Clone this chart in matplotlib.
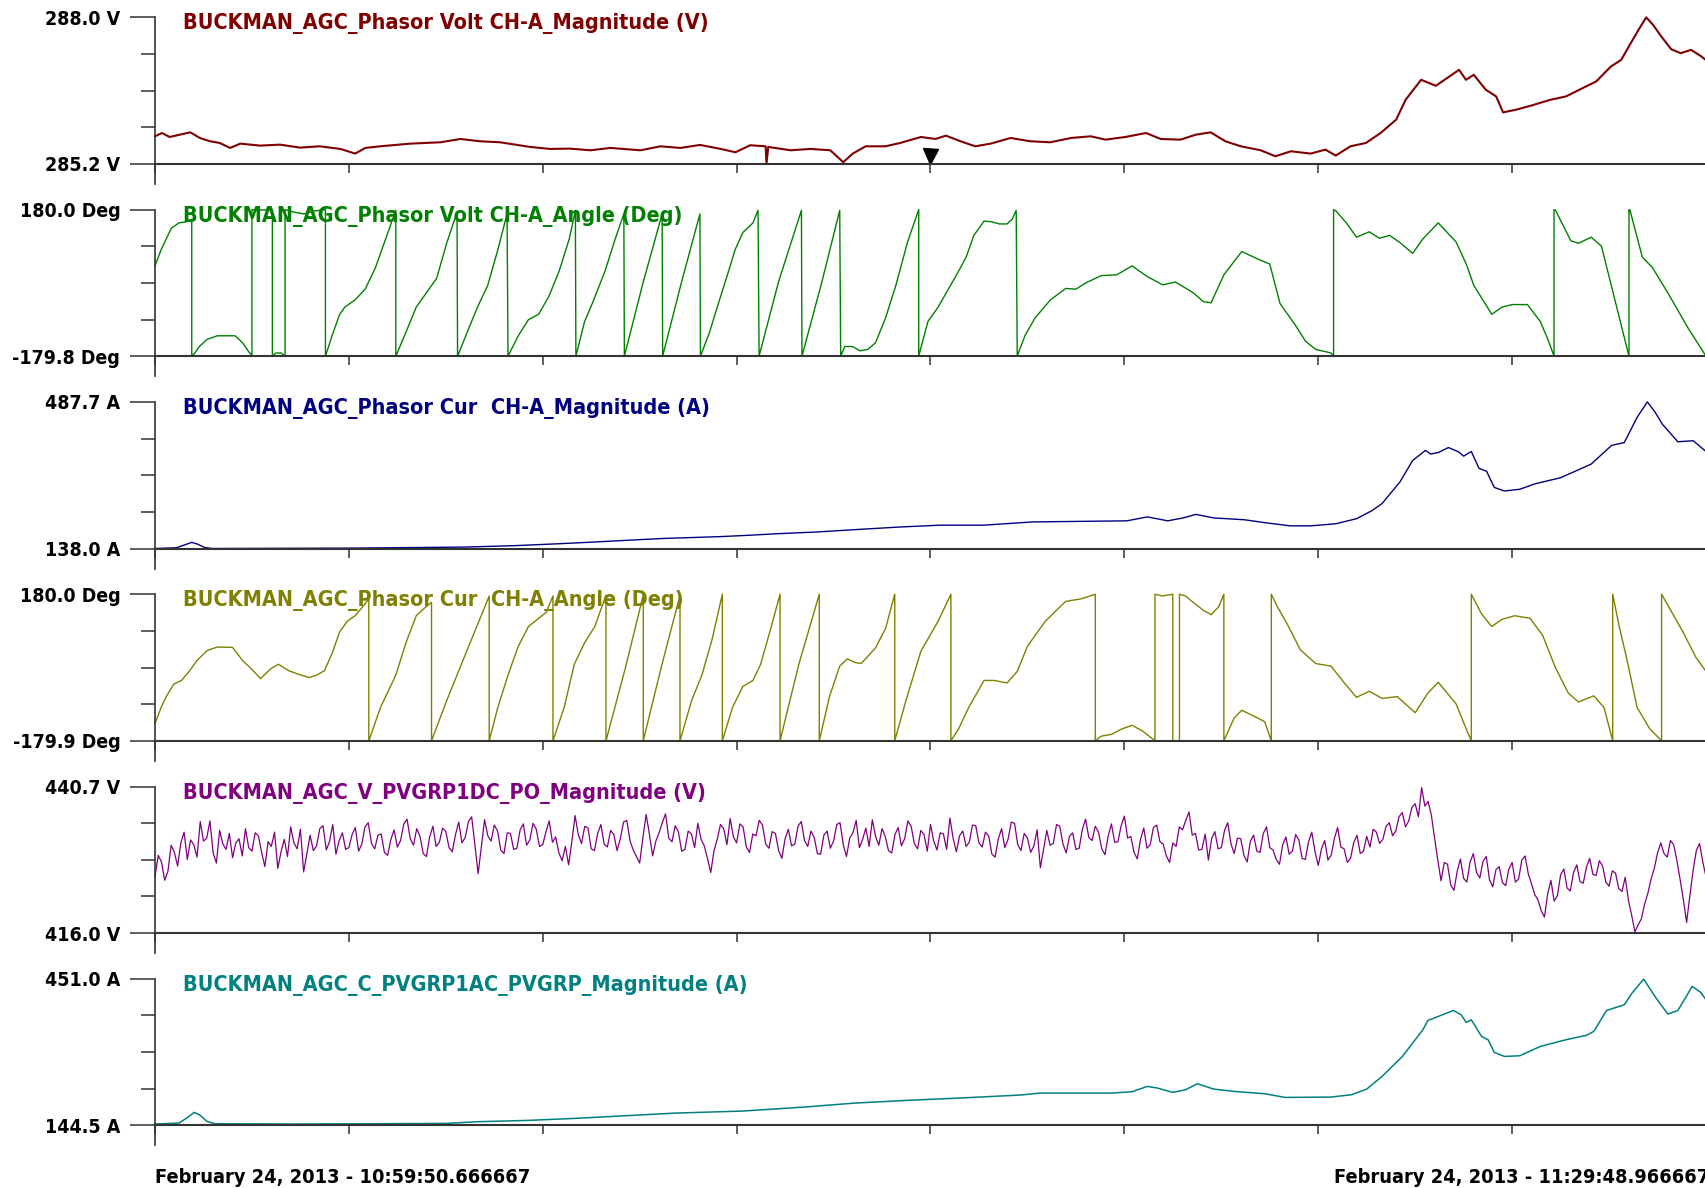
import matplotlib
matplotlib.use('Agg')
import matplotlib.pyplot as plt
import numpy as np
from matplotlib import font_manager
from matplotlib.font_manager import FontProperties
from matplotlib.transforms import ScaledTranslation

total_s = 1798.3
start_label = 'February 24, 2013 - 10:59:50.666667'
end_label = 'February 24, 2013 - 11:29:48.966667'
cursor_t = 899.15

titles = ['BUCKMAN_AGC_Phasor Volt CH-A_Magnitude (V)',
          'BUCKMAN_AGC_Phasor Volt CH-A_Angle (Deg)',
          'BUCKMAN_AGC_Phasor Cur  CH-A_Magnitude (A)',
          'BUCKMAN_AGC_Phasor Cur  CH-A_Angle (Deg)',
          'BUCKMAN_AGC_V_PVGRP1DC_PO_Magnitude (V)',
          'BUCKMAN_AGC_C_PVGRP1AC_PVGRP_Magnitude (A)']
colors = ['#800000', '#008000', '#000080', '#808000', '#800080', '#008080']
y_top = [288.0, 180.0, 487.7, 180.0, 440.7, 451.0]
y_bottom = [285.2, -179.8, 138.0, -179.9, 416.0, 144.5]
units = ['V', 'Deg', 'A', 'Deg', 'V', 'A']

# phasor volt magnitude
volt_mag_t = [0, 8, 17, 29, 41, 52, 64, 75, 87, 99, 122, 145, 168, 191, 215, 232, 244, 261,
              296, 331, 354, 377, 400, 435, 458, 481, 505, 528, 563, 586, 609, 632, 656, 673,
              690, 708, 709, 711, 737, 760, 783, 798, 809, 824, 847, 864, 888, 905, 917, 934,
              951, 969, 992, 1015, 1038, 1062, 1085, 1102, 1125, 1149, 1166, 1189, 1207, 1224,
              1241, 1259, 1282, 1299, 1317, 1340, 1357, 1369, 1386, 1404, 1421, 1439, 1450,
              1468, 1485, 1502, 1512, 1520, 1529, 1543, 1555, 1563, 1578, 1595, 1618, 1636,
              1653, 1671, 1688, 1700, 1711, 1720, 1729, 1737, 1746, 1758, 1769, 1781, 1792, 1798]
volt_mag = [285.727, 285.790, 285.714, 285.759, 285.803, 285.695, 285.632, 285.600, 285.505,
            285.587, 285.549, 285.568, 285.511, 285.536, 285.486, 285.397, 285.505, 285.536,
            285.587, 285.613, 285.676, 285.632, 285.613, 285.524, 285.486, 285.492, 285.460,
            285.505, 285.460, 285.536, 285.505, 285.562, 285.486, 285.422, 285.556, 285.536,
            285.206, 285.524, 285.460, 285.486, 285.460, 285.232, 285.397, 285.536, 285.536,
            285.600, 285.714, 285.676, 285.740, 285.632, 285.536, 285.587, 285.695, 285.632,
            285.613, 285.695, 285.727, 285.663, 285.714, 285.790, 285.676, 285.663, 285.759,
            285.803, 285.632, 285.536, 285.460, 285.346, 285.441, 285.397, 285.473, 285.359,
            285.536, 285.600, 285.790, 286.044, 286.425, 286.806, 286.692, 286.883, 286.997,
            286.806, 286.902, 286.616, 286.489, 286.184, 286.235, 286.311, 286.425, 286.489,
            286.629, 286.775, 287.060, 287.187, 287.505, 287.759, 287.999, 287.854, 287.644,
            287.390, 287.314, 287.378, 287.263, 287.187]

# phasor volt angle
volt_ang_t = [0, 7.1, 13.0, 18.9, 27.8, 36.7, 42.6, 42.6,
              45.5, 51.5, 60.3, 72.2, 92.9, 101.7, 108.8, 112.4, 112.4, 124.0, 136.1, 136.1,
              140.2, 146.1, 150.8, 150.8, 160.9, 172.7, 184.6, 197.6, 197.6,
              205.3, 214.1, 220.1, 231.9, 243.7, 255.6, 267.4, 279.2, 279.2,
              291.0, 302.9, 314.7, 326.5, 338.4, 350.2, 350.8,
              362.0, 373.9, 385.7, 397.5, 408.2, 409.3,
              421.2, 433.0, 444.8, 456.7, 468.5, 480.3, 487.4, 488.0,
              498.1, 507.0, 521.7, 533.6, 543.6, 544.2,
              566.1, 588.0, 588.6,
              610.5, 631.8, 632.4,
              643.0, 651.9, 663.7, 672.6, 681.5, 693.3, 699.2, 700.4,
              722.9, 749.5, 750.1,
              773.2, 793.9, 795.0,
              799.8, 808.6, 817.5, 826.4, 835.3, 847.1, 858.9, 872.5, 885.5, 885.5,
              896.2, 908.0, 919.9, 931.7, 940.6, 949.4, 961.3, 970.1, 979.0, 987.9, 993.8, 998.5, 999.7,
              1008.6, 1020.4, 1038.2, 1055.9, 1067.7, 1079.6, 1097.3, 1115.1, 1132.8, 1150.6, 1168.3,
              1183.1, 1203.8, 1215.6, 1224.5, 1239.3, 1260.0, 1280.7, 1292.5, 1304.4, 1322.1, 1333.9,
              1345.8, 1363.5, 1366.5, 1366.5,
              1369.4, 1381.3, 1393.1, 1407.9, 1419.7, 1431.5, 1443.4, 1458.2, 1470.0, 1487.8, 1508.5,
              1520.3, 1529.2, 1549.9, 1561.7, 1573.6, 1591.3, 1606.1, 1615.0, 1622.1, 1622.1,
              1623.8, 1641.6, 1650.4, 1665.2, 1677.1, 1694.8, 1709.0, 1709.0,
              1710.2, 1724.4, 1736.2, 1754.0, 1777.6, 1798.3, 1798.3]
volt_ang = [41.9, 81.5, 107.9, 134.3, 147.4, 150.1, 156.2, -179.8,
            -173.6, -156.0, -138.5, -129.7, -129.7, -147.2, -169.2, -178.0, 180.0, 179.0, 179.5, -179.8,
            -171.9, -171.9, -179.8, 180.0, 173.8, 169.4, 176.5, 180.0, -179.8,
            -129.7, -76.9, -59.3, -41.7, -15.3, 37.5, 107.9, 178.2, -179.8,
            -120.9, -59.3, -24.1, 11.1, 99.1, 173.8, -179.8,
            -120.9, -59.3, -6.5, 81.5, 169.4, -179.8,
            -129.7, -90.1, -76.9, -32.9, 28.7, 107.9, 178.2, -179.8,
            -94.5, -50.5, 28.7, 107.9, 169.4, -179.8,
            2.3, 169.4, -179.8,
            2.3, 169.4, -179.8,
            -120.9, -59.3, 19.9, 81.5, 123.7, 147.4, 178.2, -179.8,
            2.3, 178.2, -179.8,
            2.3, 178.2, -179.8,
            -156.0, -156.0, -166.6, -163.1, -147.2, -85.7, -6.5, 100.0, 180.0, -179.8,
            -94.5, -59.3, -15.3, 28.7, 63.9, 116.7, 151.9, 150.1, 144.8, 144.8, 156.2, 178.2, -179.8,
            -129.7, -85.7, -41.7, -13.5, -15.3, 0.5, 18.1, 19.9, 41.9, 15.5, -4.7,
            2.3, -24.1, -46.1, -48.7, 19.9, 77.1, 56.8, 46.3, -50.5, -103.3, -142.9,
            -163.1, -171.9, -179.8, 180.0,
            176.5, 147.4, 112.3, 125.5, 109.6, 116.7, 99.1, 72.7, 107.9, 147.4, 100.8,
            46.3, -6.5, -76.9, -59.3, -53.1, -53.1, -94.5, -138.5, -179.8, 180.0,
            178.2, 103.5, 97.3, 112.3, 90.3, -59.3, -179.8, 180.0,
            178.2, 63.9, 37.5, -24.1, -111.1, -179.8, 180.0]

# phasor current magnitude
cur_mag_t = [0, 24.8, 36.7, 42.6, 48.5, 57.4, 66.3, 226.0, 359.1, 418.2, 465.6, 501.1, 548.4,
             589.8, 654.9, 690.3, 719.9, 767.2, 814.6, 864.9, 911.0, 961.3, 1017.5, 1126.9,
             1150.6, 1174.2, 1192.0, 1206.8, 1227.5, 1263.0, 1286.6, 1316.2, 1339.9, 1369.4,
             1393.1, 1410.8, 1422.7, 1443.4, 1458.2, 1473.0, 1478.9, 1487.8, 1499.6, 1511.4,
             1517.3, 1526.2, 1535.1, 1543.9, 1552.8, 1564.6, 1582.4, 1600.1, 1629.7, 1665.2,
             1688.9, 1703.6, 1718.4, 1730.3, 1739.1, 1748.0, 1765.7, 1783.5, 1798.3]
cur_mag = [138.0, 139.7, 148.3, 152.6, 149.1, 140.6, 138.0, 138.9, 141.4, 144.9, 149.1, 152.6,
           157.7, 162.0, 166.3, 169.7, 173.1, 177.4, 183.4, 189.4, 193.7, 193.7, 201.4, 204.0,
           213.4, 204.0, 210.9, 219.4, 210.9, 206.6, 199.7, 192.0, 192.0, 197.1, 209.1, 228.0,
           245.1, 296.6, 348.0, 372.0, 363.4, 366.8, 378.8, 368.6, 358.3, 369.4, 329.1, 322.3,
           283.7, 275.1, 279.4, 292.3, 306.8, 339.4, 384.0, 390.8, 450.8, 487.7, 463.7, 433.7,
           392.6, 395.1, 369.4]

# phasor current angle
cur_ang_t = [0, 7.1, 13.0, 21.9, 30.8, 39.6, 48.5, 60.3, 72.2, 89.9, 101.7, 110.6, 122.5, 134.3,
             143.2, 155.0, 166.8, 178.6, 187.5, 196.4, 205.3, 214.1, 223.0, 231.9, 240.8, 247.9, 247.9,
             261.5, 279.2, 291.0, 302.9, 311.8, 320.6, 320.6,
             338.4, 362.0, 387.5, 387.5,
             397.5, 409.3, 421.2, 433.0, 444.8, 453.7, 461.4, 461.4,
             474.4, 486.2, 498.1, 509.9, 522.9, 522.9,
             545.4, 566.1, 566.1,
             586.8, 608.7, 608.7,
             622.3, 634.1, 646.0, 657.8, 657.8,
             669.6, 681.5, 693.3, 702.2, 714.0, 724.7, 724.7,
             746.5, 770.2, 770.2,
             782.0, 793.9, 802.7, 811.6, 818.7, 835.3, 847.1, 857.7, 857.7,
             870.8, 888.0, 908.0, 922.8, 922.8,
             931.7, 943.5, 961.3, 973.1, 987.9, 999.7, 1011.5, 1032.3, 1055.9, 1073.7, 1090.2, 1090.2,
             1097.3, 1109.2, 1121.0, 1132.8, 1144.7, 1155.3, 1159.4, 1159.4,
             1168.3, 1180.1, 1180.1, 1187.8, 1187.8,
             1194.9, 1203.8, 1215.6, 1224.5, 1233.3, 1239.3, 1239.3,
             1251.1, 1260.0, 1274.8, 1286.6, 1294.3, 1294.3,
             1301.4, 1313.2, 1328.0, 1345.8, 1363.5, 1378.3, 1393.1, 1407.9, 1422.7, 1440.4, 1461.1,
             1475.9, 1487.8, 1508.5, 1520.3, 1526.2, 1526.2,
             1538.1, 1549.9, 1561.7, 1576.5, 1594.3, 1609.0, 1623.8, 1638.6, 1650.4, 1668.2, 1680.0,
             1690.1, 1690.1,
             1697.8, 1706.6, 1718.4, 1733.2, 1746.8, 1746.8,
             1759.8, 1771.6, 1786.4, 1798.3]
cur_ang = [-137.6, -97.9, -71.4, -40.5, -31.7, -9.6, 16.8, 41.5, 50.3, 49.4, 16.8, -0.8, -27.3, -2.6,
           8.0, -7.9, -16.7, -24.6, -18.5, -7.9, 34.5, 87.4, 113.8, 127.1, 149.1, 168.5, -179.9,
           -97.9, -18.5, 60.9, 127.1, 144.7, 160.0, -179.9,
           -80.2, 43.3, 175.6, -179.9,
           -97.9, -18.5, 52.1, 100.6, 120.9, 135.9, 175.6, -179.9,
           -97.9, 8.0, 60.9, 100.6, 177.4, -179.9,
           -0.8, 177.4, -179.9,
           -0.8, 177.4, -179.9,
           -80.2, -18.5, 69.7, 180.0, -179.9,
           -97.9, -46.7, -31.7, 8.0, 96.2, 180.0, -179.9,
           8.0, 180.0, -179.9,
           -71.4, 3.6, 21.2, 12.4, 9.7, 47.7, 96.2, 180.0, -179.9,
           -80.2, 40.0, 113.8, 180.0, -179.9,
           -150.8, -97.9, -31.7, -31.7, -37.9, -9.6, 52.1, 113.8, 162.4, 168.5, 180.0, -179.9,
           -168.4, -164.0, -150.8, -142.0, -155.2, -172.8, -179.9, 180.0,
           175.6, 180.0, -179.9, -179.9, 180.0,
           175.6, 159.7, 140.3, 129.7, 149.1, 180.0, -179.9,
           -124.3, -104.9, -119.9, -133.1, -179.9, 180.0,
           149.1, 105.0, 43.3, 9.7, 3.6, -36.1, -73.2, -58.2, -75.8, -71.4, -111.1,
           -62.6, -36.1, -89.0, -150.8, -179.9, 180.0,
           131.5, 100.6, 118.3, 127.1, 120.9, 78.6, -0.8, -62.6, -84.6, -69.6, -97.9,
           -179.9, 180.0,
           100.0, 20.0, -97.9, -150.8, -179.9, 180.0,
           131.5, 87.4, 25.6, -9.6]

# PV DC voltage, 60 samples per grid division
pv_volt = [425.5, 429.1, 428.0, 424.9, 426.4, 430.8, 429.6, 427.3, 431.2, 433.0, 428.4, 431.7,
           430.9, 428.8, 434.8, 431.5, 432.0, 434.9, 429.5, 427.8, 433.3, 431.0, 430.1, 432.8,
           428.7, 431.2, 431.9, 429.0, 433.6, 430.4, 429.8, 432.9, 432.4, 429.6, 427.2, 431.4,
           430.6, 433.0, 426.9, 429.7, 431.8, 428.9, 433.9, 431.2, 430.2, 433.5, 426.3, 429.4,
           432.5, 429.9, 430.7, 433.6, 434.1, 430.0, 431.4, 434.3, 429.3, 431.6, 432.9, 430.1,
           430.4, 432.6, 433.8, 429.8, 431.0, 433.9, 434.6, 431.1, 430.2, 432.5, 432.7, 429.6,
           429.1, 431.8, 433.4, 430.5, 431.6, 434.4, 435.2, 431.9, 430.8, 433.6, 432.3, 429.4,
           428.9, 432.2, 434.0, 430.6, 431.3, 433.7, 433.1, 430.4, 429.7, 432.6, 434.7, 431.2,
           432.1, 434.8, 435.6, 430.9, 426.0, 430.5, 435.1, 432.4, 431.5, 434.2, 433.2, 430.0,
           429.4, 432.9, 432.8, 430.1, 430.3, 433.4, 434.4, 430.8, 431.7, 434.5, 433.5, 430.6,
           430.9, 433.1, 434.9, 431.3, 432.2, 429.5, 428.2, 430.6, 427.5, 431.4, 435.8, 432.6,
           431.1, 434.0, 433.7, 430.2, 429.9, 432.8, 434.3, 431.0, 430.5, 433.3, 432.6, 429.9,
           431.9, 434.7, 435.0, 431.6, 430.0, 428.9, 427.8, 432.1, 436.0, 432.7, 429.0, 431.5,
           432.9, 434.6, 436.1, 432.0, 431.4, 434.1, 433.0, 429.8, 430.1, 433.2, 432.7, 430.4,
           434.5, 431.8, 430.7, 428.5, 426.2, 429.9, 431.8, 434.3, 433.6, 430.9, 435.3, 432.2,
           431.2, 434.4, 433.9, 430.5, 429.6, 432.7, 432.4, 435.0, 434.2, 431.0, 430.3, 433.1,
           432.8, 429.9, 428.6, 431.9, 433.5, 430.7, 431.0, 434.0, 434.8, 431.6, 430.6, 433.2,
           432.1, 429.4, 429.3, 432.5, 433.2, 430.3, 431.5, 434.3, 434.6, 430.9, 428.9, 432.0,
           432.9, 435.0, 430.4, 431.8, 433.7, 430.6, 435.1, 432.3, 430.8, 433.6, 432.3, 429.9,
           429.5, 432.6, 433.8, 430.7, 431.9, 434.9, 434.0, 431.1, 430.2, 433.3, 432.6, 429.8,
           434.3, 431.5, 430.0, 432.9, 432.7, 430.1, 435.4, 432.0, 429.7, 432.4, 433.2, 430.6,
           431.3, 434.2, 434.1, 431.2, 430.5, 433.0, 432.4, 429.3, 428.8, 431.9, 433.6, 430.4,
           431.8, 434.7, 434.5, 430.9, 429.9, 432.8, 432.0, 429.6, 430.7, 433.4, 427.0, 430.2,
           433.3, 430.8, 431.1, 434.3, 434.0, 431.0, 429.5, 432.3, 432.9, 430.1, 430.3, 433.5,
           435.2, 432.1, 431.6, 434.0, 433.0, 430.2, 429.2, 432.4, 434.4, 431.3, 431.4, 434.1,
           435.7, 432.0, 432.3, 429.6, 428.5, 431.8, 433.7, 430.3, 430.9, 433.8, 434.2, 431.4,
           431.0, 429.0, 427.9, 431.2, 430.6, 433.9, 433.4, 435.0, 436.4, 432.5, 432.8, 430.0,
           430.1, 432.7, 428.3, 431.9, 433.1, 430.2, 430.4, 433.3, 434.6, 431.0, 429.4, 432.0,
           431.9, 429.1, 428.0, 431.5, 432.5, 429.8, 429.6, 432.8, 433.9, 430.4, 430.0, 428.4,
           427.6, 430.9, 432.2, 429.3, 429.8, 432.6, 431.7, 428.6, 428.4, 431.4, 433.0, 429.7,
           427.4, 430.2, 431.6, 428.3, 429.1, 432.0, 433.8, 430.5, 430.2, 427.9, 428.6, 431.3,
           432.5, 429.4, 429.8, 432.3, 430.5, 433.5, 433.0, 431.1, 431.8, 434.0, 434.6, 432.4,
           433.2, 435.6, 436.3, 433.9, 434.9, 437.2, 437.8, 435.6, 440.5, 437.4, 438.2, 435.9,
           432.0, 428.3, 424.8, 427.9, 427.6, 424.1, 423.2, 426.4, 428.5, 425.2, 424.6, 428.0,
           429.4, 426.2, 425.3, 428.1, 428.9, 425.0, 423.8, 426.7, 427.2, 424.5, 424.0, 426.8,
           427.9, 424.6, 425.1, 428.3, 429.0, 426.0, 424.3, 422.5, 421.6, 419.8, 418.7, 422.6,
           424.9, 421.4, 422.3, 425.8, 426.8, 423.6, 423.1, 426.2, 427.5, 424.7, 424.4, 427.1,
           428.6, 425.9, 425.7, 428.2, 427.3, 424.6, 423.9, 426.5, 426.1, 423.5, 423.0, 425.4,
           421.5, 419.0, 416.2, 417.4, 418.4, 420.9, 422.7, 425.1, 426.9, 429.5, 431.2, 429.4,
           428.8, 431.6, 430.9, 428.2, 425.0, 421.6, 417.8, 422.3, 426.5, 429.9, 431.1, 428.0,
           425.5]
pv_volt_t = np.linspace(0, total_s, len(pv_volt))

# PV AC current
pv_cur_t = [0, 27.8, 36.7, 45.5, 51.5, 60.3, 69.2, 160.9, 338.4, 373.9, 433.0, 486.2, 545.4,
            604.6, 681.5, 752.4, 811.6, 870.8, 931.7, 1002.7, 1026.3, 1109.2, 1132.8, 1150.6,
            1162.4, 1180.1, 1194.9, 1208.5, 1227.5, 1251.1, 1286.6, 1310.3, 1363.5, 1387.2,
            1404.9, 1422.7, 1446.3, 1470.0, 1475.9, 1487.8, 1505.5, 1514.4, 1520.3, 1526.2,
            1538.1, 1545.7, 1552.8, 1564.6, 1582.4, 1606.1, 1635.7, 1659.3, 1668.2, 1683.0,
            1703.6, 1712.5, 1726.1, 1739.1, 1754.0, 1765.7, 1782.3, 1792.3, 1798.3]
pv_cur = [147.3, 149.4, 159.8, 171.7, 166.8, 152.9, 148.0, 147.3, 148.7, 152.2, 155.0, 159.1,
          164.7, 170.3, 174.5, 182.8, 191.2, 196.7, 201.6, 207.9, 212.1, 212.1, 214.9, 226.0,
          222.5, 213.5, 219.0, 231.6, 220.4, 215.6, 210.7, 203.0, 203.7, 208.6, 220.4, 246.9,
          288.7, 344.4, 363.9, 372.3, 384.8, 375.8, 359.7, 365.3, 330.5, 323.5, 297.1, 288.7,
          290.1, 309.6, 323.5, 332.6, 341.0, 384.8, 396.7, 421.0, 450.3, 414.1, 377.2, 384.8,
          435.0, 422.4, 407.1]

series = [(volt_mag_t, volt_mag), (volt_ang_t, volt_ang), (cur_mag_t, cur_mag),
          (cur_ang_t, cur_ang), (pv_volt_t, pv_volt), (pv_cur_t, pv_cur)]
line_widths = [1.5, 1.0, 1.0, 1.0, 0.9, 1.1]


def is_bold(f):
    w = f.weight
    if isinstance(w, (int, float)):
        return w >= 600
    return str(w).lower() in ('bold', 'demibold', 'semibold', 'heavy', 'black', 'extra bold')


def pick_font():
    entries = [f for f in font_manager.fontManager.ttflist if is_bold(f) and f.style == 'normal']
    for want in ['Liberation Sans Narrow', 'Arial Narrow']:
        for f in entries:
            if f.name == want:
                return f.fname
    for want in ['Liberation Sans', 'Noto Sans', 'DejaVu Sans', 'Roboto', 'Open Sans', 'Lato', 'Inter']:
        for f in entries:
            if f.name == want and 'condensed' in str(f.stretch).lower():
                return f.fname
    for f in entries:
        if 'Narrow' in f.name or 'Condensed' in f.name:
            return f.fname
    return None


path = pick_font()
if path:
    base_fp = FontProperties(fname=path)
else:
    base_fp = FontProperties(family='Liberation Sans', weight='bold')

W, H = 1706, 1188
fig = plt.figure(figsize=(W / 100, H / 100), dpi=100)
renderer = fig.canvas.get_renderer()


def sized_font(sample, target_px):
    fp = base_fp.copy()
    fp.set_size(20)
    t = fig.text(0, 0, sample, fontproperties=fp)
    w = t.get_window_extent(renderer).width
    t.remove()
    fp.set_size(20 * target_px / w)
    return fp


fp_title = sized_font(titles[0], 525)
fp_tick = sized_font('288.0 V', 75)
fp_date = sized_font(start_label, 374)

left_px = 155
panel_h = 146.6
axis_col = '#333333'

axes = []
for i in range(6):
    top = 17.3 + 192.3 * i
    ax = fig.add_axes([left_px / W, 1 - (top + panel_h) / H, 1 - left_px / W, panel_h / H])
    t, v = series[i]
    ax.plot(t, v, color=colors[i], lw=line_widths[i], clip_on=False)
    ax.set_xlim(0, total_s)
    ax.set_ylim(y_bottom[i], y_top[i])
    for s in ['top', 'right']:
        ax.spines[s].set_visible(False)
    ax.spines['left'].set_color(axis_col)
    ax.spines['bottom'].set_color(axis_col)
    ax.spines['left'].set_linewidth(1.2)
    ax.spines['bottom'].set_linewidth(1.5)
    ax.set_xticks(np.linspace(0, total_s, 9))
    ax.tick_params(axis='x', labelbottom=False, length=6.5, width=1.1, color=axis_col)
    ax.set_yticks([y_bottom[i], y_top[i]],
                  labels=[f'{y_bottom[i]:.1f} {units[i]}', f'{y_top[i]:.1f} {units[i]}'],
                  fontproperties=fp_tick)
    ax.set_yticks(np.linspace(y_bottom[i], y_top[i], 5)[1:-1], minor=True)
    ax.tick_params(axis='y', which='major', length=18, width=1.1, pad=7, color=axis_col,
                   labelcolor='black')
    ax.tick_params(axis='y', which='minor', length=10, width=1.1, color=axis_col)
    ax.plot([0, 0], [0, -20 / panel_h], transform=ax.transAxes, clip_on=False,
            color=axis_col, lw=1.2)
    fig.text(183 / W, 1 - (top + 12) / H, titles[i], color=colors[i],
             ha='left', va='baseline', fontproperties=fp_title)
    axes.append(ax)

# cursor marker
axes[0].plot([cursor_t], [y_bottom[0]], marker='v', ms=10.8, color='black', clip_on=False,
             transform=axes[0].transData + ScaledTranslation(0, 7.5 / 100, fig.dpi_scale_trans))

fig.text(155 / W, 1 - 1183 / H, start_label, ha='left', va='baseline', fontproperties=fp_date)
fig.text(1709 / W, 1 - 1183 / H, end_label, ha='right', va='baseline', fontproperties=fp_date)

fig.savefig('out.png', dpi=100)
